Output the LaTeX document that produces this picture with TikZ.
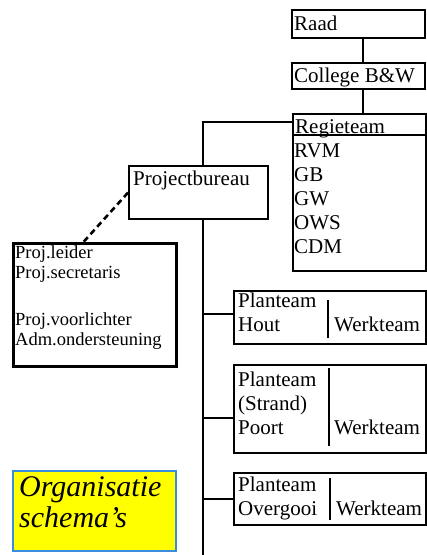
\documentclass[tikz,border=0pt]{standalone}
\usepackage{fontspec}
\setmainfont{Liberation Serif}
\definecolor{yellowTitle}{HTML}{FFFF00}
\definecolor{blueTitle}{HTML}{3A8CDC}
\usetikzlibrary{
  positioning,
  backgrounds
}

\begin{document}
\begin{tikzpicture}[
    x = 1pt,
    y = -1pt,
    % Boxes.
    box/.style = {
      draw = black,
      fill = white,
      line width = 2.2pt,
      anchor = north west,
      inner sep = 0pt
    },
    staff box/.style = {
      box,
      line width = 3pt
    },
    title box/.style = {
      box,
      draw = blueTitle,
      fill = yellowTitle,
      line width = 1.8pt
    },
    % Texts.
    txt/.style = {
      anchor = base west,
      inner sep = 0pt,
      font = \fontsize{21}{24}\selectfont
    },
    txt block/.style = {
      txt,
      anchor = north west,
      align = left
    },
    % Lines.
    link/.style = {
      draw = black,
      line width = 2pt
    },
    staff link/.style = {
      link,
      line width = 2.6pt,
      dash pattern = on 6pt off 4pt
    },
    divider/.style = {
      draw = black,
      line width = 2.4pt
    }
  ]

  % Frame.
  \useasboundingbox (0,0) rectangle (427,555);

  % Boxes.
  \node[box, minimum width = 133pt, minimum height = 28pt] (raad) at (291,9) {};
  \node[box, minimum width = 133pt, minimum height = 26pt] (college) at (291,62) {};
  \node[box, minimum width = 133pt, minimum height = 157pt] (regie) at (292,113) {};
  \node[box, minimum width = 139pt, minimum height = 53pt] (projbureau) at (128,165) {};
  \node[staff box, minimum width = 163pt, minimum height = 123pt] (projstaf) at (12,242) {};
  \node[box, minimum width = 192pt, minimum height = 53pt] (hout) at (233,290) {};
  \node[box, minimum width = 192pt, minimum height = 88pt] (strand) at (233,364) {};
  \node[box, minimum width = 192pt, minimum height = 52pt] (overgooi) at (233,472) {};
  \node[title box, minimum width = 163pt, minimum height = 80pt] (titel) at (12,470) {};

  % Spine.
  \coordinate (spine top) at (203,122);
  \coordinate (spine end) at (203,555);
  \coordinate (raad out) at ([xshift = 4pt]raad.south);
  \coordinate (hout in) at ([yshift = 3.5pt]hout.west);
  \coordinate (strand in) at ([yshift = -9pt]strand.west);

  % Links.
  \begin{scope}[on background layer]
    \draw[link] (raad out) -- (raad out |- college.north);
    \draw[link] (raad out |- college.south) -- (raad out |- regie.north);
    \draw[link] (regie.west |- spine top) -- (spine top) -- (spine end);
    \draw[link] (spine end |- hout in) -- (hout in);
    \draw[link] (spine end |- strand in) -- (strand in);
    \draw[link] (spine end |- overgooi.west) -- (overgooi.west);
    \draw[staff link] (projbureau.west) -- ([xshift = -11.5pt]projstaf.north);
  \end{scope}

  % Inner rules.
  \draw[link] (regie.west |- 0,135) -- (regie.east |- 0,135);
  \draw[divider] (328,300) -- (328,338);
  \draw[divider] (329,368) -- (329,446);
  \draw[divider] (330,478) -- (330,520);

  % Texts.
  \node[txt] (raad text) at (294,30) {Raad};
  \node[txt] (college text) at (294,82) {College B\&W};
  \node[txt] (regie text) at (295,133) {Regieteam};
  \node[txt block] (regie leden) at (294,144) {RVM\\GB\\GW\\OWS\\CDM};
  \node[txt] (projbureau text) at (133,185) {Projectbureau};
  \node[txt block, font = \fontsize{18.5}{20}\selectfont] (projstaf text) at (15,245.4)
    {Proj.leider\\Proj.secretaris\\[27pt]Proj.voorlichter\\Adm.ondersteuning};
  \node[txt block] (hout text) at (238,292.7) {Planteam\\Hout};
  \node[txt] (hout werk) at (334,331) {Werkteam};
  \node[txt block] (strand text) at (238,371.7) {Planteam\\(Strand)\\Poort};
  \node[txt] (strand werk) at (334,434) {Werkteam};
  \node[txt block] (overgooi text) at (238,476.7) {Planteam\\Overgooi};
  \node[txt] (overgooi werk) at (336,515) {Werkteam};
  \node[txt block, font = \fontsize{30}{31}\itshape] (titel text) at (19,476.5)
    {Organisatie\\schema's};
\end{tikzpicture}
\end{document}
